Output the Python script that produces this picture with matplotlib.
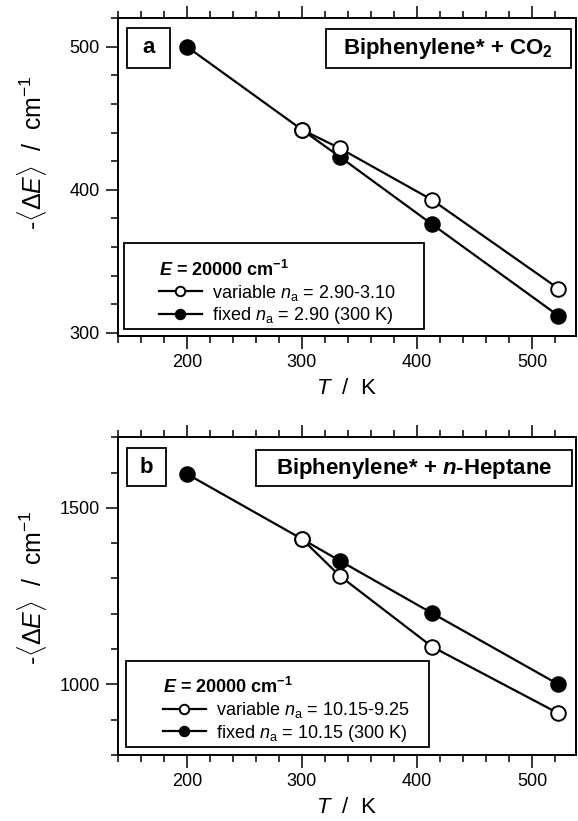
import matplotlib
matplotlib.use("Agg")
import matplotlib.pyplot as plt
from matplotlib.patches import Rectangle
from matplotlib.ticker import MultipleLocator

plt.rcParams["font.family"] = ["Liberation Sans", "DejaVu Sans"]
plt.rcParams["mathtext.fontset"] = "custom"
plt.rcParams["mathtext.rm"] = "Liberation Sans"
plt.rcParams["mathtext.it"] = "Liberation Sans:italic"
plt.rcParams["mathtext.bf"] = "Liberation Sans:bold"
plt.rcParams["mathtext.bfit"] = "Liberation Sans:bold:italic"

# --- data: temperature (K) vs -<dE> (cm-1) ---
T_fixed = [200, 300, 333, 413, 523]
T_var = [300, 333, 413, 523]

co2_fixed = [500, 442, 423, 376, 312]
co2_var = [442, 429, 393, 331]

hep_fixed = [1596, 1412, 1350, 1202, 1000]
hep_var = [1412, 1307, 1107, 918]

panels = [
    {"tag": "a", "title": r"Biphenylene* + CO$_\mathbf{2}$",
     "fixed": co2_fixed, "var": co2_var,
     "var_lab": r"variable $n_\mathrm{a}$ = 2.90-3.10",
     "fix_lab": r"fixed $n_\mathrm{a}$ = 2.90 (300 K)",
     "ylim": (298, 520), "ymaj": 100, "ymin": 20,
     "ylab_y": 0.575,
     "tag_box": (0.0197, 0.843, 0.0938, 0.126),
     "title_box": (0.454, 0.843, 0.535, 0.122),
     "leg_box": (0.0131, 0.022, 0.655, 0.270),
     "leg_anchor": (0.089, 0.030)},
    {"tag": "b", "title": r"Biphenylene* + $\mathbfit{n}$-Heptane",
     "fixed": hep_fixed, "var": hep_var,
     "var_lab": r"variable $n_\mathrm{a}$ = 10.15-9.25",
     "fix_lab": r"fixed $n_\mathrm{a}$ = 10.15 (300 K)",
     "ylim": (800, 1700), "ymaj": 500, "ymin": 100,
     "ylab_y": 0.528,
     "tag_box": (0.0197, 0.846, 0.0853, 0.119),
     "title_box": (0.301, 0.846, 0.692, 0.113),
     "leg_box": (0.0175, 0.025, 0.662, 0.271),
     "leg_anchor": (0.098, 0.036)},
]

fig = plt.figure(figsize=(5.78, 8.21), dpi=100)
fig.patch.set_facecolor("white")
axes_rects = [[0.204, 0.591, 0.792, 0.387], [0.204, 0.0804, 0.792, 0.387]]


def boxed_text(ax, rect, text, size):
    x0, y0, w, h = rect
    ax.add_patch(Rectangle((x0, y0), w, h, transform=ax.transAxes,
                           fc="white", ec="black", lw=1.3, zorder=4))
    ax.text(x0 + w / 2, y0 + h / 2, text, transform=ax.transAxes,
            fontsize=size, fontweight="bold", ha="center", va="center",
            zorder=5)


for p, rect in zip(panels, axes_rects):
    ax = fig.add_axes(rect)

    ax.plot(T_fixed, p["fixed"], "-o", color="black", lw=1.6,
            ms=10.5, mfc="black", mec="black", mew=1.4,
            label=p["fix_lab"])
    ax.plot(T_var, p["var"], "-o", color="black", lw=1.6,
            ms=10.5, mfc="white", mec="black", mew=1.4,
            label=p["var_lab"])

    ax.set_xlim(140, 538)
    ax.set_ylim(*p["ylim"])
    ax.xaxis.set_major_locator(MultipleLocator(100))
    ax.xaxis.set_minor_locator(MultipleLocator(20))
    ax.yaxis.set_major_locator(MultipleLocator(p["ymaj"]))
    ax.yaxis.set_minor_locator(MultipleLocator(p["ymin"]))

    ax.tick_params(which="both", direction="out", top=True, right=False,
                   labelsize=13, width=1.1)
    ax.tick_params(which="major", length=9, pad=4)
    ax.tick_params(which="minor", length=5)
    for s in ax.spines.values():
        s.set_linewidth(1.4)

    ax.set_xlabel(r"$T$  /  K", fontsize=16, labelpad=5)
    ax.set_ylabel(r"-$\langle\Delta E\rangle$  /  cm$^{-1}$", fontsize=18)
    ax.yaxis.set_label_coords(-0.15, p["ylab_y"])

    boxed_text(ax, p["tag_box"], p["tag"], 16)
    boxed_text(ax, p["title_box"], p["title"], 16)

    # legend frame drawn separately (wide side margins as in the original)
    lx, ly, lw_, lh = p["leg_box"]
    ax.add_patch(Rectangle((lx, ly), lw_, lh, transform=ax.transAxes,
                           fc="white", ec="black", lw=1.3, zorder=4))
    handles, labels = ax.get_legend_handles_labels()
    leg = ax.legend(handles[::-1], labels[::-1],
                    title=r"$\mathbfit{E}$ = 20000 cm$^{\mathbf{-1}}$",
                    title_fontproperties={"weight": "bold", "size": 13},
                    alignment="left", loc="lower left",
                    bbox_to_anchor=p["leg_anchor"], borderaxespad=0,
                    borderpad=0, fontsize=13, markerscale=0.65,
                    handlelength=2.4, handletextpad=0.55, labelspacing=0.15,
                    frameon=False)
    leg.set_zorder(6)

fig.savefig("out.png", dpi=100, facecolor="white")
